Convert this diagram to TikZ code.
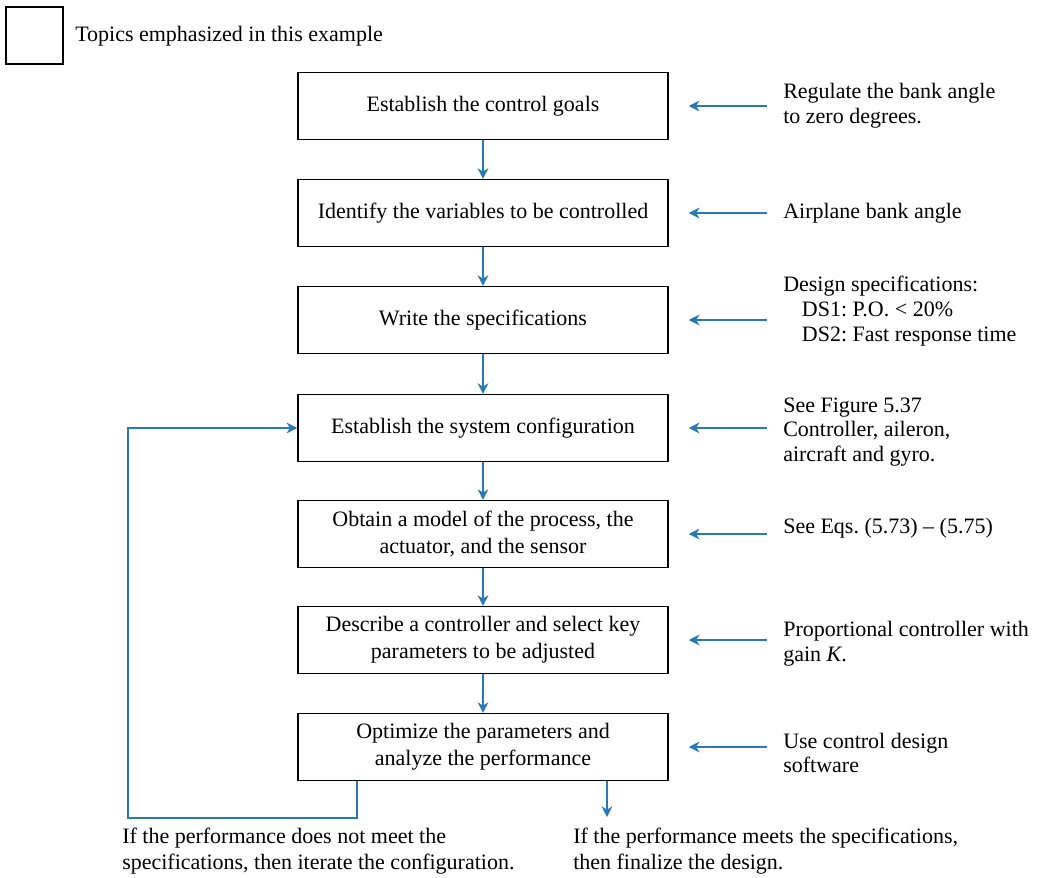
\documentclass[tikz,border=0pt]{standalone}
\usepackage{fontspec}
\setmainfont{Liberation Serif}
\usetikzlibrary{arrows.meta,calc}
\definecolor{ablue}{RGB}{40,122,182}
\frenchspacing
\begin{document}
\begin{tikzpicture}[x=0.75pt,y=-0.75pt,
  stepbox/.style={draw=black,line width=1.1pt,minimum width=277.5pt,minimum height=50pt,align=center,inner sep=0pt,font=\fontsize{16.5}{20}\selectfont},
  note/.style={anchor=west,align=left,inner sep=0pt,font=\fontsize{16.5}{18.5}\selectfont},
  bnote/.style={anchor=west,align=left,inner sep=0pt,font=\fontsize{16.5}{20}\selectfont},
  flow/.style={draw=ablue,line width=1.9pt,-{Stealth[length=8pt,width=8pt]}},
]
\useasboundingbox (0,0) rectangle (1039,878);

% legend
\node[draw=black,line width=1.1pt,minimum size=42.75pt,inner sep=0pt] (leg) at (34.5,35.5) {};
\node[note] (legt) at (75,36) {Topics emphasized in this example};

% steps
\node[stepbox] (b1) at (483,106) {Establish the control goals};
\node[stepbox] (b2) at (483,213) {Identify the variables to be controlled};
\node[stepbox] (b3) at (483,320) {Write the specifications};
\node[stepbox] (b4) at (483,428) {Establish the system configuration};
\node[stepbox] (b5) at (483,534) {Obtain a model of the process, the\\actuator, and the sensor};
\node[stepbox] (b6) at (483,640) {Describe a controller and select key\\parameters to be adjusted};
\node[stepbox] (b7) at (483,747) {Optimize the parameters and\\analyze the performance};

\draw[flow] (b1) -- (b2);
\draw[flow] (b2) -- (b3);
\draw[flow] (b3) -- (b4);
\draw[flow] (b4) -- (b5);
\draw[flow] (b5) -- (b6);
\draw[flow] (b6) -- (b7);

% right notes
\node[note] (t1) at (783,106) {Regulate the bank angle\\to zero degrees.};
\node[note] (t2) at (783,213) {Airplane bank angle};
\node[note] (t3) at (783,311) {Design specifications:\\\hspace{14pt}DS1: P.O. \textless{} 20\%\\\hspace{14pt}DS2: Fast response time};
\node[note] (t4) at (783,432) {See Figure 5.37\\Controller, aileron,\\aircraft and gyro.};
\node[note] (t5) at (783,528) {See Eqs. (5.73) -- (5.75)};
\node[note] (t6) at (783,644) {Proportional controller with\\gain \textit{K}.};
\node[note] (t7) at (783,753) {Use control design\\software};

\draw[flow] ($(t1.west |- b1.east)+(-16,0)$) -- ($(b1.east)+(20,0)$);
\draw[flow] ($(t2.west |- b2.east)+(-16,0)$) -- ($(b2.east)+(20,0)$);
\draw[flow] ($(t3.west |- b3.east)+(-16,0)$) -- ($(b3.east)+(20,0)$);
\draw[flow] ($(t4.west |- b4.east)+(-16,0)$) -- ($(b4.east)+(20,0)$);
\draw[flow] ($(t5.west |- b5.east)+(-16,0)$) -- ($(b5.east)+(20,0)$);
\draw[flow] ($(t6.west |- b6.east)+(-16,0)$) -- ($(b6.east)+(20,0)$);
\draw[flow] ($(t7.west |- b7.east)+(-16,0)$) -- ($(b7.east)+(20,0)$);

% bottom
\coordinate (fbr) at (357,818);
\coordinate (fbl) at (128,818);
\coordinate (fin) at (607,817);
\draw[flow] (b7.south -| fbr) -- (fbr) -- (fbl) -- (fbl |- b4.west) -- (b4.west);
\draw[flow] (b7.south -| fin) -- (fin);

\node[bnote] (fl) at (122,851) {If the performance does not meet the\\specifications, then iterate the configuration.};
\node[bnote] (fr) at (573,851) {If the performance meets the specifications,\\then finalize the design.};
\end{tikzpicture}
\end{document}
